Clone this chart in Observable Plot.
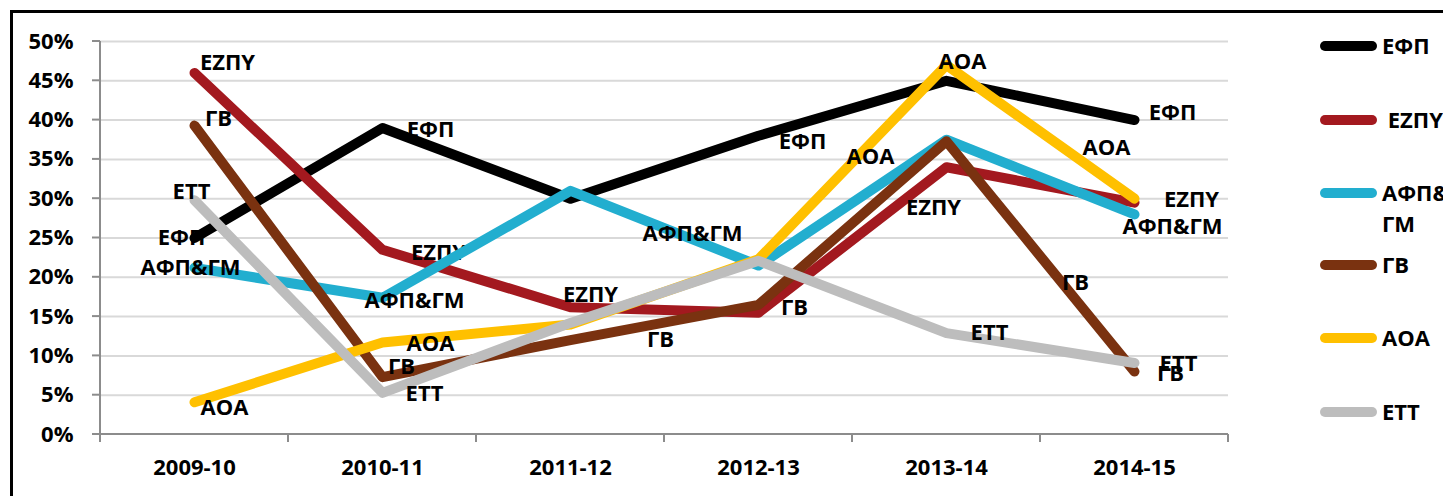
<!DOCTYPE html>
<html>
<head>
<meta charset="utf-8">
<script src="https://cdn.jsdelivr.net/npm/d3@7"></script>
<script src="https://cdn.jsdelivr.net/npm/@observablehq/plot@0.6"></script>
<style>
  html, body { margin: 0; padding: 0; background: #fff; overflow: hidden; }
  #wrap { position: relative; width: 1443px; height: 496px; overflow: hidden; font-family: "Open Sans", sans-serif; font-weight: 700; }
  #frame { position: absolute; left: 10px; top: 10px; width: 1500px; height: 600px; border: 3px solid #000; box-sizing: border-box; pointer-events: none; }
  #chart { position: absolute; left: 0; top: 0; }
  .lg-item { position: absolute; left: 1320px; }
  .lg-sw { position: absolute; left: 0; width: 57px; height: 10px; border-radius: 5px; }
  .lg-tx { position: absolute; left: 62px; font-size: 22px; line-height: 31px; white-space: nowrap; color: #000; }
</style>
</head>
<body>
<div id="wrap">
  <div id="chart"></div>
  <div id="legend"></div>
  <div id="frame"></div>
</div>
<script>
// ---- data ----
const years = ["2009-10", "2010-11", "2011-12", "2012-13", "2013-14", "2014-15"];
const seriesNames = ["ΕΦΠ", "ΕΖΠΥ", "ΑΦΠ&ΓΜ", "ΓΒ", "ΑΟΑ", "ΕΤΤ"];
const efp   = [0.25, 0.39, 0.30, 0.38, 0.45, 0.40];
const ezpy  = [0.46, 0.235, 0.162, 0.155, 0.34, 0.295];
const afpgm = [0.212, 0.174, 0.31, 0.215, 0.375, 0.28];
const gv    = [0.393, 0.073, 0.12, 0.165, 0.373, 0.08];
const aoa   = [0.041, 0.117, 0.14, 0.223, 0.47, 0.30];
const ett   = [0.298, 0.053, 0.142, 0.221, 0.129, 0.091];
const yTickValues = [0, 5, 10, 15, 20, 25, 30, 35, 40, 45, 50];
const colors = ["#000000", "#a3191f", "#22aecf", "#7a3210", "#ffc000", "#bdbdbd"];
const legendLabels = [["ΕΦΠ"], [" ΕΖΠΥ"], ["ΑΦΠ&", "ΓΜ"], ["ΓΒ"], ["ΑΟΑ"], ["ΕΤΤ"]];
// data-label placement: series, year, offset x, offset y (pixels)
const labelSpots = [
  ["ΕΦΠ", "2009-10", -13, 0], ["ΕΦΠ", "2010-11", 48, 2], ["ΕΦΠ", "2012-13", 44, 6], ["ΕΦΠ", "2014-15", 38, -7],
  ["ΕΖΠΥ", "2009-10", 33, -10], ["ΕΖΠΥ", "2010-11", 56, 3], ["ΕΖΠΥ", "2011-12", 20, -12], ["ΕΖΠΥ", "2013-14", -13, 41], ["ΕΖΠΥ", "2014-15", 57, -3],
  ["ΑΦΠ&ΓΜ", "2009-10", -4, 0], ["ΑΦΠ&ΓΜ", "2010-11", 32, 3], ["ΑΦΠ&ΓΜ", "2012-13", -66, -32], ["ΑΦΠ&ΓΜ", "2014-15", 38, 13],
  ["ΓΒ", "2009-10", 24, -7], ["ΓΒ", "2010-11", 19, -10], ["ΓΒ", "2011-12", 90, 0], ["ΓΒ", "2012-13", 36, 3], ["ΓΒ", "2013-14", 129, 142], ["ΓΒ", "2014-15", 36, 2],
  ["ΑΟΑ", "2009-10", 30, 6], ["ΑΟΑ", "2010-11", 48, 1], ["ΑΟΑ", "2012-13", 112, -102], ["ΑΟΑ", "2013-14", 16, -3], ["ΑΟΑ", "2014-15", -28, -51],
  ["ΕΤΤ", "2009-10", -3, -8], ["ΕΤΤ", "2010-11", 42, 1], ["ΕΤΤ", "2013-14", 43, 0], ["ΕΤΤ", "2014-15", 44, 1]
];

const seriesValues = [efp, ezpy, afpgm, gv, aoa, ett];
const rows = seriesNames.flatMap((s, i) => years.map((y, j) => ({series: s, year: y, value: seriesValues[i][j]})));
const yTicks = yTickValues.map(v => v / 100);

function axesDecor(index, scales, values, dimensions) {
  const {x, y} = scales;
  const g = d3.create("svg:g");
  const step = x(years[1]) - x(years[0]);
  const left = dimensions.marginLeft, right = dimensions.width - dimensions.marginRight;
  const bottom = y(0), top = y(0.5);
  const gray = "#8c8c8c";
  g.append("line").attr("x1", left).attr("x2", left).attr("y1", top).attr("y2", bottom + 8).attr("stroke", gray).attr("stroke-width", 2);
  g.append("line").attr("x1", left - 8).attr("x2", right).attr("y1", bottom).attr("y2", bottom).attr("stroke", gray).attr("stroke-width", 2);
  for (const t of yTicks) {
    g.append("line").attr("x1", left - 8).attr("x2", left).attr("y1", y(t)).attr("y2", y(t)).attr("stroke", gray).attr("stroke-width", 2);
  }
  const bounds = years.map(yr => x(yr) - step / 2).concat([x(years[years.length - 1]) + step / 2]);
  for (const b of bounds) {
    g.append("line").attr("x1", b).attr("x2", b).attr("y1", bottom).attr("y2", bottom + 8).attr("stroke", gray).attr("stroke-width", 2);
  }
  return g.node();
}

const marks = [
  Plot.ruleY(yTicks.filter(t => t > 0), {y: d => d, stroke: "#d9d9d9", strokeWidth: 2}),
  axesDecor
];
seriesNames.forEach((s, i) => {
  marks.push(Plot.line(rows.filter(r => r.series === s), {
    x: "year", y: "value", stroke: colors[i], strokeWidth: 10,
    strokeLinecap: "round", strokeLinejoin: "round"
  }));
  for (const [ls, ly, dx, dy] of labelSpots.filter(l => l[0] === s)) {
    marks.push(Plot.text(rows.filter(r => r.series === ls && r.year === ly), {
      x: "year", y: "value", text: "series", dx, dy,
      fill: "#000", fontSize: 22, fontWeight: 700, textAnchor: "middle"
    }));
  }
});

const chart = Plot.plot({
  width: 1443,
  height: 496,
  marginLeft: 100,
  marginRight: 215,
  marginTop: 41,
  marginBottom: 62,
  style: {fontFamily: "Open Sans, sans-serif", fontWeight: 700, fontSize: "22px", color: "#000", background: "transparent"},
  x: {type: "point", domain: years, padding: 0.5, tickSize: 0, tickPadding: 25, label: null},
  y: {domain: [0, 0.5], ticks: yTicks, tickFormat: d3.format(".0%"), tickSize: 0, tickPadding: 27, label: null},
  marks
});
document.getElementById("chart").appendChild(chart);

// legend
const legendTops = [46, 120, 193, 265, 338, 412];
const legend = document.getElementById("legend");
seriesNames.forEach((s, i) => {
  const item = document.createElement("div");
  item.className = "lg-item";
  item.style.top = legendTops[i] + "px";
  const sw = document.createElement("div");
  sw.className = "lg-sw";
  sw.style.top = "-5px";
  sw.style.background = colors[i];
  item.appendChild(sw);
  const tx = document.createElement("div");
  tx.className = "lg-tx";
  tx.style.top = "-16px";
  tx.innerHTML = legendLabels[i].map(t => t.replace(/&/g, "&amp;").replace(/ /g, "&nbsp;")).join("<br>");
  item.appendChild(tx);
  legend.appendChild(item);
});
</script>
</body>
</html>
